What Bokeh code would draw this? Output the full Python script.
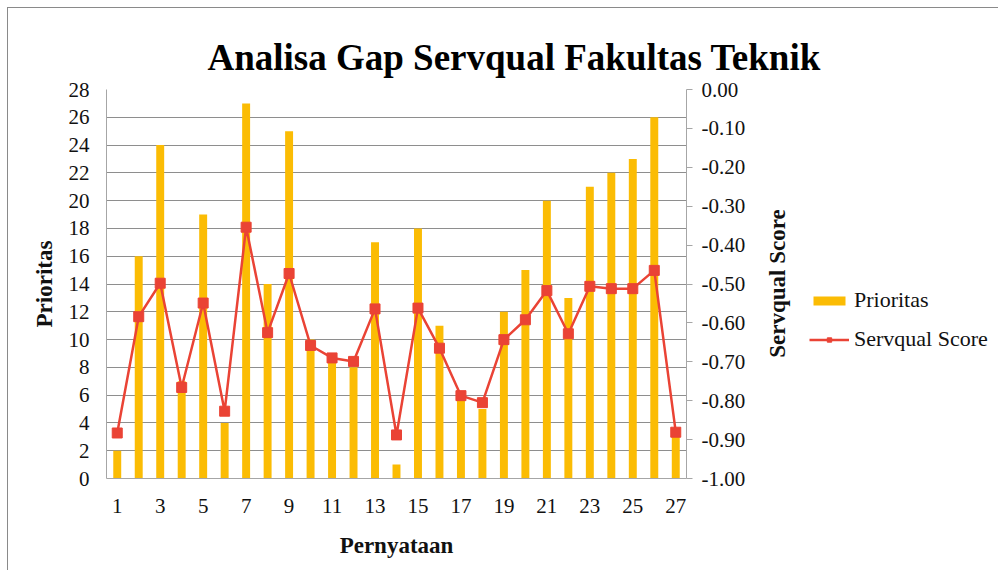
import math
from bokeh.plotting import figure
from bokeh.layouts import row
from bokeh.models import (Range1d, LinearAxis, FixedTicker, SingleIntervalTicker,
                          NumeralTickFormatter, Legend, LegendItem, ColumnDataSource, Label)
from bokeh.embed import file_html
from bokeh.resources import INLINE

# ---- data ----
pernyataan = [1, 2, 3, 4, 5, 6, 7, 8, 9, 10, 11, 12, 13, 14, 15, 16, 17, 18, 19, 20,
              21, 22, 23, 24, 25, 26, 27]
prioritas = [2, 16, 24, 7, 19, 4, 27, 14, 25, 10, 9, 8, 17, 1, 18, 11, 6, 5, 12, 15,
             20, 13, 21, 22, 23, 26, 3]
servqual = [-0.883, -0.584, -0.498, -0.766, -0.549, -0.827, -0.354, -0.625, -0.473,
            -0.658, -0.690, -0.699, -0.564, -0.888, -0.562, -0.665, -0.787, -0.805,
            -0.643, -0.592, -0.517, -0.628, -0.506, -0.512, -0.512, -0.465, -0.881]
x_tick_labels = [1, 3, 5, 7, 9, 11, 13, 15, 17, 19, 21, 23, 25, 27]
score_ticks = [-1.0, -0.9, -0.8, -0.7, -0.6, -0.5, -0.4, -0.3, -0.2, -0.1, 0.0]

FONT = "Liberation Serif"
BAR = "#FBBC04"
RED = "#EA4335"
TXT = "#111111"

src = ColumnDataSource(dict(x=pernyataan, p=prioritas, s=servqual))

# ---------------- main chart ----------------
p = figure(frame_width=580, frame_height=389, output_backend="svg", toolbar_location=None,
           x_range=Range1d(0.5, 27.5), y_range=Range1d(0, 28),
           min_border_left=98, min_border_right=312, min_border_top=81, min_border_bottom=92,
           title="Analisa Gap Servqual Fakultas Teknik")
p.outline_line_color = None
p.background_fill_color = "white"
p.border_fill_color = "white"

p.title.text_font = FONT
p.title.text_font_size = "37px"
p.title.text_font_style = "bold"
p.title.text_color = "#000000"
p.title.align = "left"
p.title.offset = 101
p.title.standoff = 23

p.extra_y_ranges = {"score": Range1d(-1.0, 0.0)}

p.vbar(x="x", top="p", width=0.37, source=src, fill_color=BAR, line_color=None)
p.line(x="x", y="s", source=src, y_range_name="score", line_color=RED, line_width=2.5)
p.scatter(x="x", y="s", source=src, y_range_name="score", marker="square", size=10,
          fill_color=RED, line_color=RED)

# x axis
xa = p.xaxis[0]
xa.ticker = FixedTicker(ticks=x_tick_labels)
xa.axis_label = "Pernyataan"
xa.major_tick_out = 0
xa.major_tick_in = 0
xa.minor_tick_out = 0
xa.minor_tick_in = 0
xa.major_label_standoff = 20
xa.axis_label_standoff = 17
xa.axis_line_color = "#a6a6a6"

# left axis
ya = p.yaxis[0]
ya.ticker = SingleIntervalTicker(interval=2, num_minor_ticks=0)
ya.axis_label = "Prioritas"
ya.major_tick_out = 0
ya.major_tick_in = 0
ya.minor_tick_out = 0
ya.minor_tick_in = 0
ya.major_label_standoff = 17
ya.axis_label_standoff = 9
ya.axis_line_color = "#a6a6a6"

# right axis
ra = LinearAxis(y_range_name="score", ticker=FixedTicker(ticks=score_ticks),
                formatter=NumeralTickFormatter(format="0.00"))
ra.major_tick_out = 6
ra.major_tick_in = 0
ra.minor_tick_out = 0
ra.minor_tick_in = 0
ra.major_tick_line_color = "#a6a6a6"
ra.major_label_standoff = 9
ra.axis_line_color = "#a6a6a6"
p.add_layout(ra, "right")

for ax in (xa, ya, ra):
    ax.major_label_text_font = FONT
    ax.major_label_text_font_size = "21px"
    ax.major_label_text_color = TXT
    ax.axis_label_text_font = FONT
    ax.axis_label_text_font_size = "23px"
    ax.axis_label_text_font_style = "bold"
    ax.axis_label_text_color = TXT

p.xgrid.grid_line_color = None
p.ygrid.grid_line_color = "#8e8e8e"
p.ygrid.grid_line_width = 1

# ---------------- right strip (overlaid): axis title + legend ----------------
p2 = figure(width=248, height=562, output_backend="svg", toolbar_location=None,
            x_range=Range1d(-300, -200), y_range=Range1d(-300, -200),
            x_axis_location=None, y_axis_location=None, min_border=0)
p2.grid.visible = False
p2.outline_line_color = None
p2.background_fill_alpha = 0
p2.border_fill_alpha = 0
p2.styles = {"margin-left": "-248px"}

# same series, drawn outside the strip's ranges, only to feed the legend
b2 = p2.vbar(x="x", top="p", width=0.37, source=src, fill_color=BAR, line_color=None)
l2 = p2.line(x="x", y="s", source=src, line_color=RED, line_width=2.5)
s2 = p2.scatter(x="x", y="s", source=src, marker="square", size=10,
                fill_color=RED, line_color=RED)

p2.add_layout(Label(x=27, y=195, x_units="screen", y_units="screen", text="Servqual Score",
                    angle=math.pi / 2, text_align="center", text_baseline="middle",
                    text_font=FONT, text_font_size="23px", text_font_style="bold",
                    text_color=TXT))

legend = Legend(items=[LegendItem(label="Prioritas", renderers=[b2]),
                       LegendItem(label="Servqual Score", renderers=[l2, s2])],
                location=(59, 126), orientation="vertical")
legend.padding = 0
legend.margin = 0
legend.border_line_color = None
legend.background_fill_alpha = 0
legend.glyph_width = 40
legend.glyph_height = 11
legend.label_height = 11
legend.spacing = 13
legend.label_standoff = 5
legend.label_text_font = FONT
legend.label_text_font_size = "22px"
legend.label_text_color = TXT
p2.add_layout(legend)

layout = row(p, p2)
layout.styles = {"margin-left": "7px", "margin-top": "7px",
                 "border-left": "1px solid #8a8a8a", "border-top": "1px solid #8a8a8a"}

open("out.html", "w").write(file_html(layout, INLINE))
